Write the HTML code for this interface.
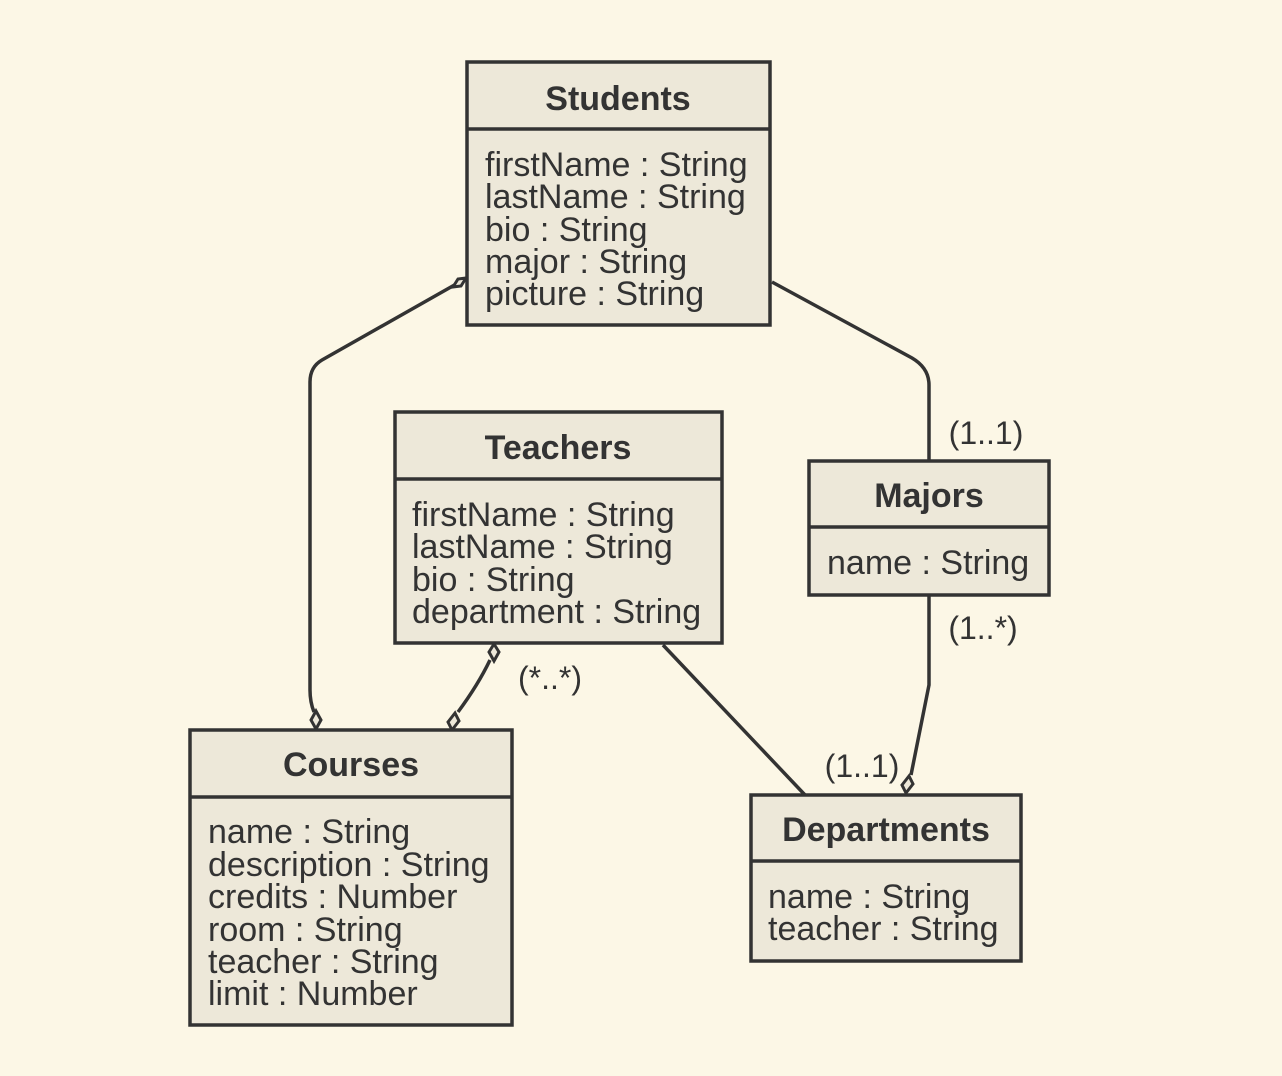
<!DOCTYPE html>
<html><head><meta charset="utf-8"><style>
html,body{margin:0;padding:0;background:#fcf7e6;}
svg{display:block;}
text{font-family:"Liberation Sans",Arial,sans-serif;fill:#333;}
.t{font-weight:bold;font-size:34px;text-anchor:middle;}
.a{font-size:34px;}
.l{font-size:32px;}
.box{fill:#ede8d9;stroke:#333;stroke-width:3.5;}
.ln{fill:none;stroke:#333;stroke-width:3.5;}
.d{fill:#ede8d9;stroke:#333;stroke-width:3;}
</style></head><body>
<svg width="1282" height="1076" viewBox="0 0 1282 1076">
<rect width="1282" height="1076" fill="#fcf7e6"/>
<path class="ln" d="M458,283 L322,360 Q310,367 310,382 L310,690 Q310,702 314,712"/>
<polygon class="d" points="466,278 458,279 453,287 461,286" />
<polygon class="d" points="316,729 321,720 316,711 311,720"/>
<path class="ln" d="M490,660 Q478,685 458,712"/>
<polygon class="d" points="494,644 499,652 494,661 489,652"/>
<polygon class="d" points="452,730 448,722 455,713 459,721"/>
<path class="ln" d="M663,645 L805,795"/>
<path class="ln" d="M772,282 L912,358 Q929,368 929,385 L929,461"/>
<path class="ln" d="M929,595 L929,685 L911,775"/>
<polygon class="d" points="906,793 902,785 909,776 913,784"/>
<text class="l" x="986" y="444" text-anchor="middle">(1..1)</text>
<text class="l" x="983" y="639" text-anchor="middle">(1..*)</text>
<text class="l" x="862" y="777" text-anchor="middle">(1..1)</text>
<text class="l" x="550" y="689" text-anchor="middle">(*..*)</text>
<rect class="box" x="467" y="62" width="303" height="263"/>
<line class="ln" x1="467" y1="129" x2="770" y2="129"/>
<text class="t" x="618" y="110">Students</text>
<text class="a" x="485" y="176">firstName : String</text>
<text class="a" x="485" y="208">lastName : String</text>
<text class="a" x="485" y="241">bio : String</text>
<text class="a" x="485" y="273">major : String</text>
<text class="a" x="485" y="305">picture : String</text>
<rect class="box" x="395" y="412" width="327" height="231"/>
<line class="ln" x1="395" y1="479" x2="722" y2="479"/>
<text class="t" x="558" y="459">Teachers</text>
<text class="a" x="412" y="526">firstName : String</text>
<text class="a" x="412" y="558">lastName : String</text>
<text class="a" x="412" y="591">bio : String</text>
<text class="a" x="412" y="623">department : String</text>
<rect class="box" x="809" y="461" width="240" height="134"/>
<line class="ln" x1="809" y1="527" x2="1049" y2="527"/>
<text class="t" x="929" y="507">Majors</text>
<text class="a" x="827" y="574">name : String</text>
<rect class="box" x="190" y="730" width="322" height="295"/>
<line class="ln" x1="190" y1="797" x2="512" y2="797"/>
<text class="t" x="351" y="776">Courses</text>
<text class="a" x="208" y="843">name : String</text>
<text class="a" x="208" y="876">description : String</text>
<text class="a" x="208" y="908">credits : Number</text>
<text class="a" x="208" y="941">room : String</text>
<text class="a" x="208" y="973">teacher : String</text>
<text class="a" x="208" y="1005">limit : Number</text>
<rect class="box" x="751" y="795" width="270" height="166"/>
<line class="ln" x1="751" y1="861" x2="1021" y2="861"/>
<text class="t" x="886" y="841">Departments</text>
<text class="a" x="768" y="908">name : String</text>
<text class="a" x="768" y="940">teacher : String</text>
</svg>
</body></html>
